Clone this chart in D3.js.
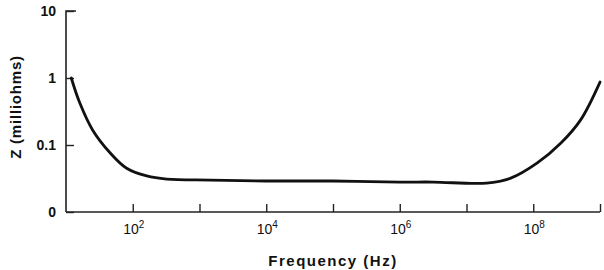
<!DOCTYPE html>
<html>
<head>
<meta charset="utf-8">
<script src="https://cdn.jsdelivr.net/npm/d3@7"></script>
<style>
  body { margin: 0; background: #fff; }
  svg text { font-family: "Liberation Sans", Arial, sans-serif; fill: #111; }
</style>
</head>
<body>
<svg id="chart" width="604" height="270"></svg>
<script>
// impedance curve (Hz, milliohms)
const freqHz = [12, 16, 25, 46, 81, 162, 324, 1450, 1e4, 1e5, 1e6, 3.2e6, 2e7, 4.6e7, 1.15e8, 2.6e8, 5.1e8, 1e9];
const zMilli = [1.0, 0.43, 0.168, 0.076, 0.045, 0.0345, 0.031, 0.030, 0.029, 0.029, 0.028, 0.028, 0.027, 0.032, 0.054, 0.107, 0.235, 0.87];

// axis ticks
const xTicks = [1e2, 1e3, 1e4, 1e5, 1e6, 1e7, 1e8, 1e9];
const xTickLabels = ["2", "", "4", "", "6", "", "8", ""];   // exponents shown as 10^n
const yTicks = [0.01, 0.1, 1, 10];
const yTickLabels = ["0", "0.1", "1", "10"];

const svg = d3.select('#chart');

// the bottom of the y axis is drawn as "0" but sits one decade below 0.1
const x = d3.scaleLog().domain([10, 1e9]).range([66, 600]);
const y = d3.scaleLog().domain([0.01, 10]).range([212, 11]);

const axisCol = '#222';

// y axis
const yAxis = d3.axisRight(y)
  .tickValues(yTicks)
  .tickSize(8)
  .tickFormat('');
svg.append('g')
  .attr('transform', `translate(${x.range()[0]},0)`)
  .call(yAxis)
  .call(g => g.select('.domain').attr('stroke', axisCol).attr('stroke-width', 1.6).attr('d', `M10,${y(10)}H0V${y(0.01)}`))
  .call(g => g.selectAll('.tick line').attr('stroke', axisCol).attr('stroke-width', 1.4));

svg.append('g').selectAll('text.ylab')
  .data(yTicks)
  .enter()
  .append('text')
  .attr('class', 'ylab')
  .attr('x', 56)
  .attr('y', d => y(d))
  .attr('dy', '0.35em')
  .attr('text-anchor', 'end')
  .style('font-size', '14px')
  .style('font-weight', 'bold')
  .text((d, i) => yTickLabels[i]);

// x axis
const xAxis = d3.axisTop(x)
  .tickValues(xTicks)
  .tickSize(8)
  .tickFormat('');
svg.append('g')
  .attr('transform', `translate(0,${y(0.01)})`)
  .call(xAxis)
  .call(g => g.select('.domain').attr('stroke', axisCol).attr('stroke-width', 1.4).attr('d', `M${x.range()[0]},0H${x.range()[1]}`))
  .call(g => g.selectAll('.tick line').attr('stroke', axisCol).attr('stroke-width', 1.4));

const xl = svg.append('g').selectAll('text.xlab')
  .data(xTicks.filter((d, i) => xTickLabels[i] !== ''))
  .enter()
  .append('text')
  .attr('class', 'xlab')
  .attr('x', d => x(d) + 1)
  .attr('y', 234)
  .attr('text-anchor', 'middle')
  .style('font-size', '14px');
xl.append('tspan').text('10');
xl.append('tspan')
  .attr('dy', -6)
  .style('font-size', '10px')
  .text(d => xTickLabels[xTicks.indexOf(d)]);

// axis titles
svg.append('text')
  .attr('x', (x.range()[0] + x.range()[1]) / 2)
  .attr('y', 266)
  .attr('text-anchor', 'middle')
  .style('font-size', '15px')
  .style('font-weight', 'bold')
  .style('letter-spacing', '1.5px')
  .text('Frequency (Hz)');

svg.append('text')
  .attr('transform', `translate(21,${107}) rotate(-90)`)
  .attr('text-anchor', 'middle')
  .style('font-size', '15px')
  .style('font-weight', 'bold')
  .style('letter-spacing', '0.8px')
  .text('Z (milliohms)');

// the curve
const line = d3.line()
  .x((d, i) => x(freqHz[i]))
  .y(d => y(d))
  .curve(d3.curveCatmullRom.alpha(0.5));

svg.append('path')
  .datum(zMilli)
  .attr('d', line)
  .attr('fill', 'none')
  .attr('stroke', '#111')
  .attr('stroke-width', 2.8)
  .attr('stroke-linecap', 'round');
</script>
</body>
</html>
